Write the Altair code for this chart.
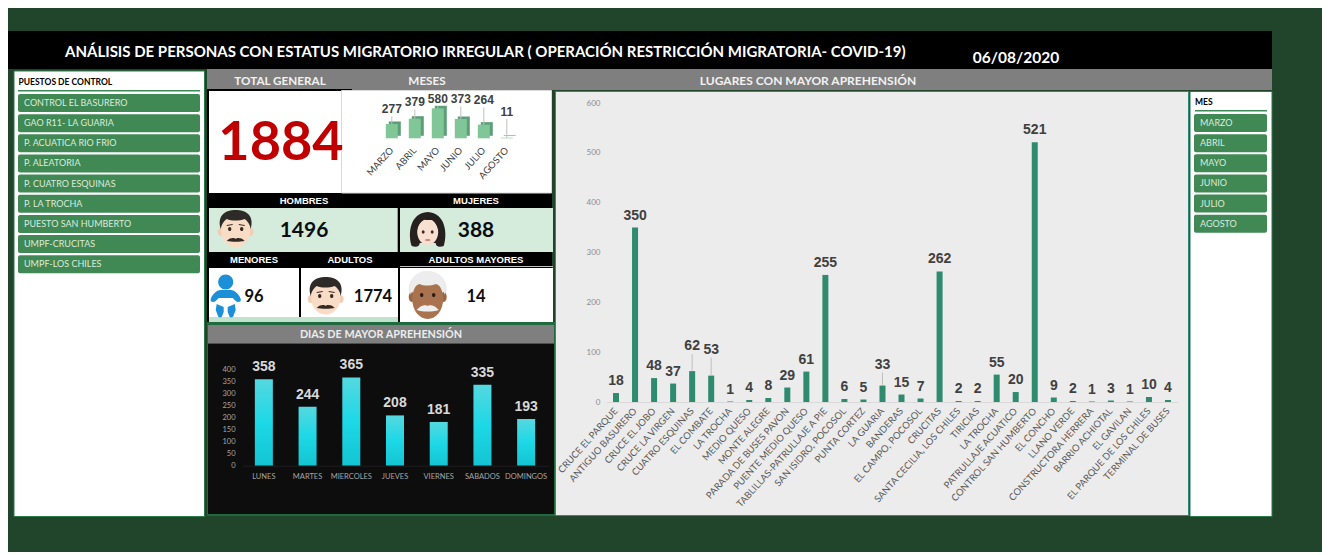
import altair as alt
import pandas as pd

W, H = 1314, 544
OX, OY = 8, 8

# ---------- data ----------
lugares = ["CRUCE EL PARQUE", "ANTIGUO BASURERO", "CRUCE EL JOBO", "CRUCE LA VIRGEN", "CUATRO ESQUINAS",
           "EL COMBATE", "LA TROCHA ", "MEDIO QUESO", "MONTE ALEGRE", "PARADA DE BUSES PAVON",
           "PUENTE MEDIO QUESO", "TABLILLAS-PATRULLAJE A PIE", "SAN ISIDRO,  POCOSOL", "PUNTA CORTEZ", "LA GUARIA",
           "BANDERAS", "EL CAMPO, POCOSOL", "CRUCITAS", "SANTA CECILIA, LOS CHILES", "TIRICIAS",
           "LA TROCHA", "PATRULLAJE ACUATICO", "CONTROL SAN HUMBERTO", "EL CONCHO", "LLANO VERDE",
           "CONSTRUCTORA HERRERA", "BARRIO ACHIOTAL", "EL GAVILAN", "EL PARQUE DE LOS CHILES", "TERMINAL DE BUSES"]
lugares_val = [18, 350, 48, 37, 62, 53, 1, 4, 8, 29, 61, 255, 6, 5, 33, 15, 7, 262, 2, 2, 55, 20, 521, 9, 2, 1, 3, 1, 10, 4]
lugares_lift = [12, 12, 12, 12, 25, 26, 12, 12, 12, 12, 12, 12, 12, 12, 21, 12, 12, 12, 12, 12, 12, 12, 12, 12, 12, 12, 12, 12, 12, 12]

dias = ["LUNES", "MARTES", "MIERCOLES", "JUEVES", "VIERNES", "SABADOS", "DOMINGOS"]
dias_val = [358, 244, 365, 208, 181, 335, 193]

meses = ["MARZO", "ABRIL", "MAYO", "JUNIO", "JULIO", "AGOSTO"]
meses_val = [277, 379, 580, 373, 264, 11]
meses_lift = [14.6, 16.3, 9, 19.6, 24.3, 25.7]

puestos = ["CONTROL  EL BASURERO", "GAO R11- LA GUARIA", "P. ACUATICA RIO FRIO", "P. ALEATORIA",
           "P. CUATRO ESQUINAS", "P. LA TROCHA", "PUESTO  SAN HUMBERTO", "UMPF-CRUCITAS", "UMPF-LOS CHILES"]

TITLE = "ANÁLISIS DE PERSONAS CON ESTATUS MIGRATORIO IRREGULAR  ( OPERACIÓN RESTRICCIÓN MIGRATORIA- COVID-19)"

one = alt.InlineData(values=[{"k": 1}])
layers = []


def R(x0, y0, x1, y1, color, radius=0, stroke=None, sw=0):
    kw = {"color": color}
    if radius:
        kw["cornerRadius"] = radius
    if stroke:
        kw["stroke"] = stroke
        kw["strokeWidth"] = sw
    layers.append(alt.Chart(one).mark_rect(**kw).encode(
        x=alt.value(x0 - OX), x2=alt.value(x1 - OX), y=alt.value(y0 - OY), y2=alt.value(y1 - OY)))


def T(x, y, text, size, color="#FFFFFF", weight="bold", align="center", font="Lato"):
    layers.append(alt.Chart(one).mark_text(fontSize=size, color=color, fontWeight=weight, align=align,
                                           baseline="middle", font=font).encode(
        x=alt.value(x - OX), y=alt.value(y - OY), text=alt.value(text)))


def ell(cx, cy, rx, ry):
    return (f"M{cx - rx},{cy} A{rx},{ry} 0 1 1 {cx + rx},{cy} A{rx},{ry} 0 1 1 {cx - rx},{cy} Z")


def S(cx, cy, path, color):
    layers.append(alt.Chart(one).mark_point(shape=path, size=4, filled=True, fill=color, opacity=1,
                                            strokeWidth=0).encode(
        x=alt.value(cx - OX), y=alt.value(cy - OY)))


def man(cx, cy):
    S(cx, cy, ell(-15, 3, 3, 4) + ell(15, 3, 3, 4), "#F2CDB2")
    S(cx, cy, ell(0, 2, 14.5, 16.5), "#F8DCC6")
    S(cx, cy, "M-15,0 C-19,-14 -10,-19 0,-19 C10,-19 19,-14 15,0 C14,-5 12,-8 9,-10 C3,-8 -4,-8 -9,-10 C-12,-8 -14,-5 -15,0 Z", "#2E2A28")
    S(cx, cy, ell(-6, 0, 1.7, 2.1) + ell(6, 0, 1.7, 2.1), "#3A2A22")
    S(cx, cy, "M-9,-4 L-3,-5 L-3,-4 L-9,-3 Z M9,-4 L3,-5 L3,-4 L9,-3 Z", "#3A2A22")
    S(cx, cy, "M-9,12 C-5,8 -1,9 0,10 C1,9 5,8 9,12 C4,13 -4,13 -9,12 Z", "#332824")


def woman(cx, cy):
    S(cx, cy, "M-16,16 C-20,4 -18,-17 0,-18 C18,-17 20,4 16,16 C11,18 8,16 8,13 L-8,13 C-8,16 -11,18 -16,16 Z", "#26211F")
    S(cx, cy, ell(0, 2, 10.5, 13), "#F9DFCF")
    S(cx, cy, "M-11,2 C-10,-8 -3,-12 3,-12 C7,-8 10,-5 11,2 L13,-10 L-13,-10 Z", "#26211F")
    S(cx, cy, ell(-4.5, 2, 1.4, 1.7) + ell(4.5, 2, 1.4, 1.7), "#3A2A22")
    S(cx, cy, ell(0, 10, 2.8, 1.1), "#C98A80")


def oldman(cx, cy):
    S(cx, cy, ell(0, -6, 19, 18), "#E9E9E9")
    S(cx, cy, ell(-16, 2, 3, 5) + ell(16, 2, 3, 5), "#996744")
    S(cx, cy, ell(0, 4, 15.5, 20), "#A8734E")
    S(cx, cy, "M-17,0 C-20,-18 -8,-24 0,-24 C8,-24 20,-18 17,0 C15,-7 12,-10 8,-11 C3,-9 -4,-9 -8,-11 C-12,-10 -15,-7 -17,0 Z", "#EDEDED")
    S(cx, cy, ell(-6, 0, 1.7, 2.1) + ell(6, 0, 1.7, 2.1), "#2A1C14")
    S(cx, cy, "M-11,15 C-6,9 -1,10 0,11 C1,10 6,9 11,15 C5,17 -5,17 -11,15 Z", "#EFEFEF")


def baby(cx, cy):
    c = "#1B90D8"
    S(cx, cy, ell(0, -14, 7.5, 7.5), c)
    S(cx, cy, "M-5,-6 L5,-6 C9,-6 14,-1 15,3 C16,6 12,7 10,5 L7,2 L-7,2 L-10,5 C-12,7 -16,6 -15,3 C-14,-1 -9,-6 -5,-6 Z", c)
    S(cx, cy, "M-9,8 L-2,11 L-2,16 L-4,21 C-6,22 -8,21 -8,19 L-10,14 Z M9,8 L2,11 L2,16 L4,21 C6,22 8,21 8,19 L10,14 Z", c)


# ---------- panels ----------
R(OX, OY, OX + W, OY + H, "#20452A")
R(OX, 31, 1272, 69, "#000000")
R(207, 69, 1272, 90, "#7F7F7F")
R(207, 89, 352, 91, "#000000")

# left slicer
R(14, 71, 204.5, 516.5, "#FFFFFF", stroke="#2C7A4A", sw=1)
T(18.5, 82, "PUESTOS DE CONTROL", 8.5, "#000000", align="left")
R(18, 90, 200, 91.5, "#3E8A57")
for i, p in enumerate(puestos):
    y = 94 + i * 20.15
    R(18, y, 200, y + 18, "#408955", radius=2)
    T(24, y + 9, p, 9, "#DCEBDD", "normal", "left")

# right slicer
R(1190, 91.5, 1272, 516.5, "#FFFFFF", stroke="#2C7A4A", sw=1)
T(1195, 101.5, "MES", 8.5, "#000000", align="left")
R(1195, 110, 1267, 111.5, "#3E8A57")
for i, m in enumerate(meses):
    y = 114 + i * 20.15
    R(1194, y, 1267, y + 18, "#408955", radius=2)
    T(1200, y + 9, m, 9, "#DCEBDD", "normal", "left")

# KPI cards
R(207, 91, 555, 325, "#000000")
R(552, 90, 555, 325, "#20452A")
R(209, 91, 341, 193, "#FFFFFF")
R(341.5, 90.5, 551.5, 193, "#FFFFFF", stroke="#D9D9D9", sw=1)
R(209, 208, 397.7, 252, "#D5EBDC")
R(400, 208, 553, 252, "#D5EBDC")
R(209, 268, 299, 317, "#FFFFFF")
R(301, 268, 398, 317, "#FFFFFF")
R(400, 266, 553, 267, "#BFBFBF")
R(400, 268, 553, 322, "#FFFFFF")
R(209, 317, 398, 322, "#BFE3CC")

# main chart panel
R(555, 91, 1189, 516, "#2E8B7A")
R(556, 92, 1188, 515, "#ECECEC")

# dias panel
R(207, 322, 555, 516, "#1F6B3F")
R(208, 325, 554, 343, "#7F7F7F")
R(208, 344, 554, 514, "#0D0D0D")

# ---------- text ----------
T(65, 52, TITLE, 15, align="left")
T(1016, 58, "06/08/2020", 15.5)
T(280, 80.5, "TOTAL GENERAL", 11.7, "#F2F2F2")
T(427, 80.5, "MESES", 11.7, "#F2F2F2")
T(808, 80.5, "LUGARES  CON MAYOR APREHENSIÓN", 12, "#F2F2F2")
T(281, 144, "1884", 54, "#C00000")
T(304, 201, "HOMBRES", 9.5, font="Liberation Sans")
T(476, 201, "MUJERES", 9.5, font="Liberation Sans")
T(254, 259.5, "MENORES", 9.5, font="Liberation Sans")
T(350, 259.5, "ADULTOS", 9.5, font="Liberation Sans")
T(476, 259.5, "ADULTOS MAYORES", 9.5, font="Liberation Sans")
T(304, 231, "1496", 21, "#0D0D0D")
T(476, 231, "388", 21, "#0D0D0D")
T(254, 297, "96", 16.5, "#0D0D0D")
T(373, 297, "1774", 16.5, "#0D0D0D")
T(476, 297, "14", 16.5, "#0D0D0D")
T(381, 334.5, "DIAS DE  MAYOR APREHENSIÓN", 10.8, "#EDEDED")

man(235.7, 229)
woman(427.7, 230)
baby(225.7, 296)
man(325.7, 296)
oldman(427.7, 295)

# ---------- main bar chart ----------
Y0, Y1 = 402 - OY, 103 - OY
k = 600 / (Y0 - Y1)
df_l = pd.DataFrame({"lugar": list(range(len(lugares))), "name": lugares, "v": lugares_val, "lift": lugares_lift})
df_l["at"] = df_l.v + df_l.lift * k
df_l["top"] = df_l["at"] - 8 * k
x_l = alt.Scale(domain=lugares, range=[606.5 - OX, 1177.5 - OX])
y_l = alt.Scale(domain=[0, 600], range=[Y0, Y1])
x_l_enc = alt.X("name:N", sort=lugares, scale=x_l,
                axis=alt.Axis(orient="bottom", offset=Y0 - H, title=None, ticks=False, domain=True, domainColor="#D9D9D9",
                              labelAngle=-48, labelAlign="right", labelBaseline="middle", labelPadding=7, zindex=1,
                              labelFontSize=9.5, labelColor="#595959", labelFont="Lato", labelLimit=300,
                              labelOverlap=False, grid=False))
base_l = alt.Chart(df_l)
layers.append(base_l.mark_bar(size=6, color="#2E8B6E").encode(
    x=x_l_enc,
    y=alt.Y("v:Q", scale=y_l, axis=alt.Axis(orient="left", offset=-(604 - OX), title=None, ticks=False, domain=False,
                                            values=[0, 100, 200, 300, 400, 500, 600], labelPadding=4, zindex=1,
                                            labelFontSize=8, labelColor="#8C8C8C", labelFont="Lato", grid=False))))
layers.append(base_l.transform_filter("datum.lift > 12").mark_rule(color="#BFBFBF", strokeWidth=1).encode(
    x=alt.X("name:N", sort=lugares, scale=x_l, axis=None),
    y=alt.Y("v:Q", scale=y_l, axis=None), y2="top:Q"))
layers.append(base_l.mark_text(fontSize=14, fontWeight="bold", color="#404040", font="Liberation Sans", baseline="middle").encode(
    x=alt.X("name:N", sort=lugares, scale=x_l, axis=None),
    y=alt.Y("at:Q", scale=y_l, axis=None), text="v:Q"))

# ---------- dias ----------
Yd0, Yd1 = 465.7 - OY, 369 - OY
df_d = pd.DataFrame({"dia": dias, "v": dias_val})
x_d = alt.Scale(domain=dias, range=[242 - OX, 548 - OX])
y_d = alt.Scale(domain=[0, 400], range=[Yd0, Yd1])
grad = alt.LinearGradient(gradient="linear",
                          stops=[alt.GradientStop(color="#55D8E0", offset=0), alt.GradientStop(color="#1DD8E6", offset=0.5),
                                 alt.GradientStop(color="#14C4D2", offset=1)], x1=0, x2=0, y1=0, y2=1)
base_d = alt.Chart(df_d)
layers.append(base_d.mark_bar(size=18, color=grad).encode(
    x=alt.X("dia:N", sort=dias, scale=x_d,
            axis=alt.Axis(orient="bottom", offset=Yd0 - H, title=None, ticks=False, domain=True, domainColor="#1E1E1E",
                          labelAngle=0, labelPadding=7, labelFontSize=7.5, labelColor="#A6A6A6", labelFont="Lato", zindex=1,
                          labelOverlap=False, grid=False)),
    y=alt.Y("v:Q", scale=y_d, axis=alt.Axis(orient="left", offset=-(238 - OX), title=None, ticks=False, domain=False,
                                            values=[0, 50, 100, 150, 200, 250, 300, 350, 400], labelPadding=3, zindex=1,
                                            labelFontSize=7.5, labelColor="#A6A6A6", labelFont="Lato", grid=False))))
layers.append(base_d.mark_text(fontSize=14, fontWeight="bold", color="#D9D9D9", font="Liberation Sans", baseline="bottom", dy=-5).encode(
    x=alt.X("dia:N", sort=dias, scale=x_d, axis=None),
    y=alt.Y("v:Q", scale=y_d, axis=None), text="v:Q"))

# ---------- meses (pseudo 3D) ----------
Ym0 = 138.3 - OY
px = 30 / 580
df_m = pd.DataFrame({"mes": meses, "v": meses_val, "lift": meses_lift})
df_m["at"] = df_m.v + df_m.lift / px
df_m["top"] = df_m["at"] - 7 / px
dom_m = [0, 600]
Ym1 = Ym0 - 600 * px
x_m = alt.Scale(domain=meses, range=[380.3 - OX, 518.3 - OX])
y_m = alt.Scale(domain=dom_m, range=[Ym0, Ym1])
x_m3 = alt.Scale(domain=meses, range=[383.3 - OX, 521.3 - OX])
y_m3 = alt.Scale(domain=dom_m, range=[Ym0 - 2.5, Ym1 - 2.5])
base_m = alt.Chart(df_m)
layers.append(base_m.mark_bar(size=12, color="#5C9E78").encode(
    x=alt.X("mes:N", sort=meses, scale=x_m3, axis=None),
    y=alt.Y("v:Q", scale=y_m3, axis=None)))
layers.append(base_m.mark_bar(size=12, color="#80C697").encode(
    x=alt.X("mes:N", sort=meses, scale=x_m,
            axis=alt.Axis(orient="bottom", offset=Ym0 - H, title=None, ticks=False, domain=False, zindex=1,
                          labelAngle=-48, labelAlign="right", labelBaseline="middle", labelPadding=10,
                          labelFontSize=9.5, labelColor="#404040", labelFont="Lato", labelOverlap=False, grid=False)),
    y=alt.Y("v:Q", scale=y_m, axis=None)))
layers.append(base_m.mark_rule(color="#BFBFBF", strokeWidth=1).encode(
    x=alt.X("mes:N", sort=meses, scale=x_m, axis=None),
    y=alt.Y("v:Q", scale=y_m, axis=None), y2="top:Q"))
layers.append(base_m.mark_text(fontSize=12, fontWeight="bold", color="#404040", font="Liberation Sans", baseline="middle").encode(
    x=alt.X("mes:N", sort=meses, scale=x_m, axis=None),
    y=alt.Y("at:Q", scale=y_m, axis=None), text="v:Q"))

chart = alt.layer(*layers).resolve_scale(x="independent", y="independent").resolve_axis(x="independent", y="independent").properties(
    width=W, height=H, padding=0, autosize=alt.AutoSizeParams(type="none"), background="#FFFFFF"
).configure_view(strokeWidth=0)

chart.save("out.html", embed_options={"renderer": "svg", "actions": False})
